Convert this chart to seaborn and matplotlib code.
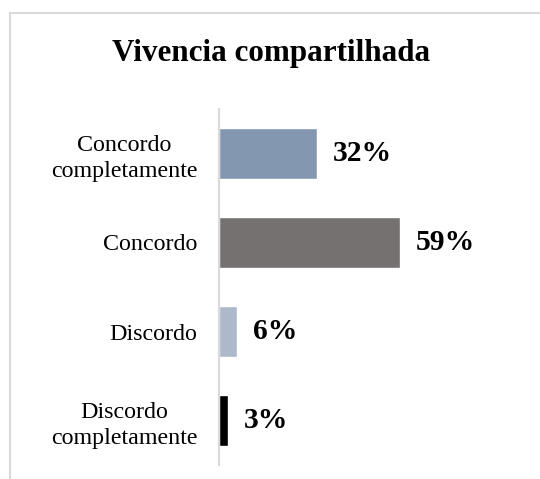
import matplotlib
matplotlib.use("Agg")
import matplotlib.pyplot as plt
import seaborn as sns
import pandas as pd
from matplotlib.lines import Line2D

categories = ["Concordo\ncompletamente", "Concordo", "Discordo", "Discordo\ncompletamente"]
values = [32, 59, 6, 3]
labels = ["32%", "59%", "6%", "3%"]
colors = ["#8497B0", "#767171", "#ADB9CA", "#000000"]
title = "Vivencia compartilhada"

sns.set_theme(style="white")
plt.rcParams["font.family"] = ["Liberation Serif", "DejaVu Serif"]

W, H = 540, 479
fig = plt.figure(figsize=(W / 100, H / 100), dpi=100)
fig.patch.set_facecolor("white")

# axes: x from 219 to 519 px, y from 109 to 465 px (top-down)
left, right = 219, 519
top, bottom = 109, 465
ax = fig.add_axes([left / W, 1 - bottom / H, (right - left) / W, (bottom - top) / H])

df = pd.DataFrame({"cat": categories, "val": values})
sns.barplot(data=df, y="cat", x="val", hue="cat", palette=colors, legend=False,
            orient="h", width=0.573, ax=ax, saturation=1)

ax.set_xlim(0, (right - left) / 3.07)
ax.set_ylim(3.5, -0.5)
ax.set_xlabel("")
ax.set_ylabel("")
ax.set_xticks([])
for s in ["top", "right", "bottom"]:
    ax.spines[s].set_visible(False)
ax.spines["left"].set_color("#d9d9d9")
ax.spines["left"].set_linewidth(1.5)
ax.tick_params(axis="y", length=0, pad=15.5)
for t in ax.get_yticklabels():
    t.set_fontsize(17.3)
    t.set_color("#000000")
    t.set_multialignment("center")
    t.set_linespacing(1.33)

for i, (v, lab) in enumerate(zip(values, labels)):
    ax.annotate(lab, xy=(v, i), xytext=(16, 0), textcoords="offset pixels",
                ha="left", va="center", fontsize=21.3, fontweight="bold", color="#000000")

fig.text(271 / W, 1 - 53 / H, title, ha="center", va="center",
         fontsize=22.4, fontweight="bold", color="#000000")

# outer frame (top and left edges visible)
fig.add_artist(Line2D([9.5 / W, 9.5 / W], [0, 1 - 13 / H], transform=fig.transFigure,
                      color="#d9d9d9", linewidth=1.5))
fig.add_artist(Line2D([9.5 / W, 1], [1 - 13 / H, 1 - 13 / H], transform=fig.transFigure,
                      color="#d9d9d9", linewidth=1.5))

fig.savefig("out.png", dpi=100, facecolor="white")
